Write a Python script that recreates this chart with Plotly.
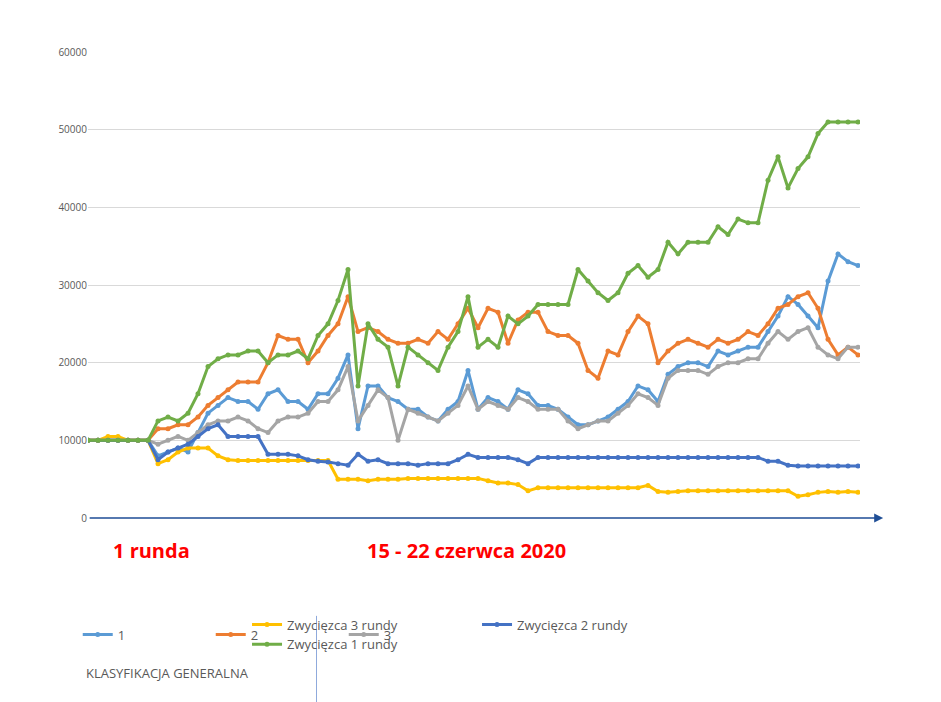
import plotly.graph_objects as go

steps = list(range(78))  # sampling points across 15-22 June 2020

s1 = [10,10,10,10,10,10,10,8,8.5,9,8.5,11,13.5,14.5,15.5,15,15,14,16,16.5,15,15,14,16,16,18,21,11.5,17,17,15.5,15,14,14,13,12.5,14,15,19,14,15.5,15,14,16.5,16,14.5,14.5,14,13,12,12,12.5,13,14,15,17,16.5,15,18.5,19.5,20,20,19.5,21.5,21,21.5,22,22,24,26,28.5,27.5,26,24.5,30.5,34,33,32.5]
s2 = [10,10,10,10,10,10,10,11.5,11.5,12,12,13,14.5,15.5,16.5,17.5,17.5,17.5,20,23.5,23,23,20,21.5,23.5,25,28.5,24,24.5,24,23,22.5,22.5,23,22.5,24,23,25,27,24.5,27,26.5,22.5,25.5,26.5,26.5,24,23.5,23.5,22.5,19,18,21.5,21,24,26,25,20,21.5,22.5,23,22.5,22,23,22.5,23,24,23.5,25,27,27.5,28.5,29,27,23,21,22,21]
s3 = [10,10,10,10,10,10,10,9.5,10,10.5,10,11,12,12.5,12.5,13,12.5,11.5,11,12.5,13,13,13.5,15,15,16.5,19.5,12.5,14.5,16.5,15.5,10,14,13.5,13,12.5,13.5,14.5,17,14,15,14.5,14,15.5,15,14,14,14,12.5,11.5,12,12.5,12.5,13.5,14.5,16,15.5,14.5,18,19,19,19,18.5,19.5,20,20,20.5,20.5,22.5,24,23,24,24.5,22,21,20.5,22,22]
zw3 = [10,10,10.5,10.5,10,10,10,7,7.5,8.5,9,9,9,8,7.5,7.4,7.4,7.4,7.4,7.4,7.4,7.4,7.4,7.4,7.4,5,5,5,4.8,5,5,5,5.1,5.1,5.1,5.1,5.1,5.1,5.1,5.1,4.8,4.5,4.5,4.3,3.5,3.9,3.9,3.9,3.9,3.9,3.9,3.9,3.9,3.9,3.9,3.9,4.2,3.4,3.3,3.4,3.5,3.5,3.5,3.5,3.5,3.5,3.5,3.5,3.5,3.5,3.5,2.8,3,3.3,3.4,3.3,3.4,3.3]
zw2 = [10,10,10,10,10,10,10,7.5,8.5,9,9.5,10.5,11.5,12,10.5,10.5,10.5,10.5,8.2,8.2,8.2,8,7.5,7.3,7.2,7,6.8,8.2,7.3,7.5,7,7,7,6.8,7,7,7,7.5,8.2,7.8,7.8,7.8,7.8,7.5,7,7.8,7.8,7.8,7.8,7.8,7.8,7.8,7.8,7.8,7.8,7.8,7.8,7.8,7.8,7.8,7.8,7.8,7.8,7.8,7.8,7.8,7.8,7.8,7.3,7.3,6.8,6.7,6.7,6.7,6.7,6.7,6.7,6.7]
zw1 = [10,10,10,10,10,10,10,12.5,13,12.5,13.5,16,19.5,20.5,21,21,21.5,21.5,20,21,21,21.5,20.5,23.5,25,28,32,17,25,23,22,17,22,21,20,19,22,24,28.5,22,23,22,26,25,26,27.5,27.5,27.5,27.5,32,30.5,29,28,29,31.5,32.5,31,32,35.5,34,35.5,35.5,35.5,37.5,36.5,38.5,38,38,43.5,46.5,42.5,45,46.5,49.5,51,51,51,51]

series = [("1", s1, "#5B9BD5", "legend"), ("2", s2, "#ED7D31", "legend"), ("3", s3, "#A5A5A5", "legend"),
          ("Zwycięzca 3 rundy", zw3, "#FFC000", "legend2"), ("Zwycięzca 2 rundy", zw2, "#4472C4", "legend2"),
          ("Zwycięzca 1 rundy", zw1, "#70AD47", "legend2")]

fig = go.Figure()
for name, vals, col, lg in series:
    fig.add_trace(go.Scatter(x=steps, y=[v * 1000 for v in vals], name=name, mode="lines+markers",
                             line=dict(color=col, width=3), marker=dict(color=col, size=5), legend=lg))

fig.update_layout(
    width=941, height=702, paper_bgcolor="white", plot_bgcolor="white",
    margin=dict(l=80, r=89, t=44, b=192),
    font=dict(family="Open Sans", color="#595959"),
    xaxis=dict(range=[0, 77.2], showgrid=False, showticklabels=False, zeroline=False, showline=False),
    yaxis=dict(range=[0, 60000], dtick=10000, gridcolor="#D9D9D9", zeroline=False,
               tickfont=dict(size=10, color="#595959"), ticks="", tickformat="d"),
    legend=dict(orientation="h", x=-0.02, y=-0.25, xanchor="left", yanchor="middle",
                entrywidth=88, font=dict(size=13), bgcolor="rgba(0,0,0,0)", itemwidth=30),
    legend2=dict(orientation="h", x=0.31, y=-0.25, xanchor="left", yanchor="middle",
                 entrywidth=185, font=dict(size=13), bgcolor="rgba(0,0,0,0)", itemwidth=30),
    showlegend=True,
)
fig.add_annotation(x=1.03, y=0, ax=-795, ay=0, xref="paper", yref="paper", axref="pixel", ayref="pixel",
                   showarrow=True, arrowhead=2, arrowsize=1.2, arrowwidth=1.5, arrowcolor="#1F4E96", text="")
fig.add_annotation(x=0.03, y=-0.104, xref="paper", yref="paper", text="<b>1 runda</b>", showarrow=False,
                   xanchor="left", font=dict(size=20, color="#FF0000"))
fig.add_annotation(x=0.359, y=-0.104, xref="paper", yref="paper", text="<b>15 - 22 czerwca 2020</b>",
                   showarrow=False, xanchor="left", font=dict(size=20, color="#FF0000"))
fig.add_annotation(x=-0.005, y=-0.357, xref="paper", yref="paper", text="KLASYFIKACJA GENERALNA",
                   showarrow=False, xanchor="left", font=dict(size=13, color="#595959"))
fig.add_shape(type="line", x0=0.296, x1=0.296, y0=-0.21, y1=-0.397, xref="paper", yref="paper",
              line=dict(color="#8FAADC", width=1))
fig.write_html("out.html")
